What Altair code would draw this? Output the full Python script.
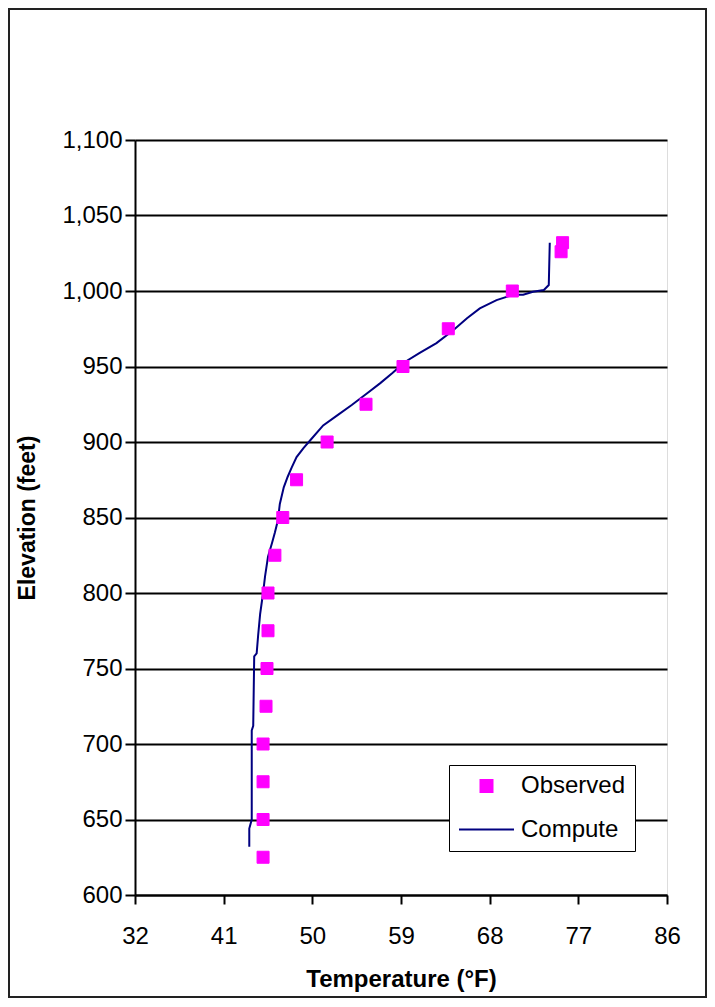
import altair as alt
import pandas as pd

# Observed temperature profile
obs_elev = [625, 650, 675, 700, 725, 750, 775, 800, 825, 850, 875, 900,
            925, 950, 975, 1000, 1026, 1032]
obs_temp = [45.0, 45.0, 45.0, 45.0, 45.3, 45.4, 45.5, 45.5, 46.2, 47.0, 48.4, 51.5,
            55.45, 59.2, 63.8, 70.3, 75.25, 75.4]

# Computed temperature profile
cmp_elev = [632, 644, 650, 709, 712, 758, 760, 772, 786, 800, 811, 824, 833, 840,
            848, 859, 870, 877, 883, 890, 896, 902, 911, 918, 924.5, 932, 939,
            945.5, 953, 959, 965.5, 974, 982, 988.5, 994, 997.5, 997.5, 999.5,
            1000.7, 1004, 1032]
cmp_temp = [43.6, 43.6, 43.85, 43.85, 44.0, 44.1, 44.35, 44.5, 44.7, 45.0, 45.2, 45.5,
            45.9, 46.2, 46.5, 46.7, 47.1, 47.5, 47.9, 48.4, 49.1, 49.9, 51.1, 52.6,
            54.0, 55.5, 56.9, 58.1, 59.4, 60.9, 62.6, 64.3, 65.7, 67.0, 68.7, 70.4,
            71.4, 72.4, 73.5, 74.0, 74.1]

x_ticks = [32, 41, 50, 59, 68, 77, 86]
y_ticks = [600, 650, 700, 750, 800, 850, 900, 950, 1000, 1050, 1100]
series_names = ["Observed", "Compute"]
series_colors = ["#FF00FF", "#000080"]

obs = pd.DataFrame({"temp": obs_temp, "elev": obs_elev, "series": "Observed"})
cmp_ = pd.DataFrame({"temp": cmp_temp, "elev": cmp_elev, "series": "Compute",
                     "order": list(range(len(cmp_elev)))})

FONT = "Liberation Sans, Arial, Helvetica, sans-serif"
W, H = 532, 755

xscale = alt.Scale(domain=[32, 86], nice=False, zero=False)
yscale = alt.Scale(domain=[600, 1100], nice=False, zero=False)

xaxis = alt.Axis(values=x_ticks, grid=False, tickSize=9, tickWidth=2, tickColor="black",
                 domainColor="black", domainWidth=2, labelFontSize=24, labelFont=FONT,
                 labelColor="black", labelPadding=20, labelFlush=False,
                 title="Temperature (°F)", titleFont=FONT, titleFontSize=24,
                 titleFontWeight="bold", titleColor="black", titleX=W / 2, titleY=84,
                 titleBaseline="middle", titleAlign="center")
yaxis = alt.Axis(values=y_ticks, format=",d", grid=True, gridColor="black", gridWidth=2,
                 tickSize=10, tickWidth=2, tickColor="black", domainColor="black",
                 domainWidth=2, labelFontSize=24, labelFont=FONT, labelColor="black",
                 labelPadding=3, labelFlush=False,
                 title="Elevation (feet)", titleFont=FONT, titleFontSize=23,
                 titleFontWeight="bold", titleColor="black", titleX=-108, titleY=H / 2,
                 titleAngle=-90, titleBaseline="middle", titleAlign="center")

legend = alt.Legend(
    title=None, orient="none", legendX=314, legendY=625,
    labelFont=FONT, labelFontSize=24, labelColor="black",
    strokeColor="black", fillColor="white", padding=9,
    labelOffset=6, rowPadding=3, symbolStrokeWidth=2,
)

scale_c = alt.Scale(domain=series_names, range=series_colors)
color = alt.Color("series:N", scale=scale_c, legend=legend)
fill = alt.Fill("series:N", scale=alt.Scale(domain=series_names, range=series_colors),
                legend=legend)

points = alt.Chart(obs).mark_point(filled=False, opacity=1, strokeWidth=1).encode(
    x=alt.X("temp:Q", scale=xscale, axis=xaxis),
    y=alt.Y("elev:Q", scale=yscale, axis=yaxis),
    color=color,
    fill=fill,
    shape=alt.Shape("series:N", scale=alt.Scale(domain=series_names,
                                                range=["square", "stroke"]),
                    legend=legend),
    size=alt.Size("series:N", scale=alt.Scale(domain=series_names, range=[144, 3025]),
                  legend=legend),
)

line = alt.Chart(cmp_).mark_line(strokeWidth=2).encode(
    x=alt.X("temp:Q", scale=xscale),
    y=alt.Y("elev:Q", scale=yscale),
    order="order:Q",
    color=color,
)

frame = alt.Chart(pd.DataFrame({"a": [0]})).mark_rect(
    fillOpacity=0, stroke="#222222", strokeWidth=2).encode(
    x=alt.value(-126), x2=alt.value(571), y=alt.value(-131), y2=alt.value(857))

chart = alt.layer(line, points, frame).properties(
    width=W, height=H,
    autosize=alt.AutoSizeParams(type="none"),
    padding={"left": 127, "top": 132, "right": 40, "bottom": 103},
).configure_view(stroke="black", strokeWidth=2).configure(background="white")

chart.save("out.html", embed_options={"renderer": "svg", "actions": False})
